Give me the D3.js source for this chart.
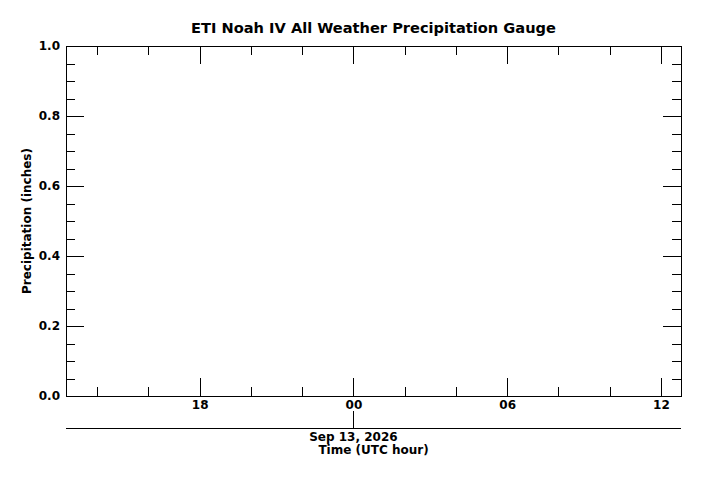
<!DOCTYPE html>
<html>
<head>
<meta charset="utf-8">
<script src="https://cdn.jsdelivr.net/npm/d3@7"></script>
<style>
  body { margin: 0; background: #fff; }
  svg { display: block; }
  text { font-family: "DejaVu Sans", sans-serif; font-weight: bold; fill: #000; }
</style>
</head>
<body>
<svg id="chart" width="703" height="477"></svg>
<script>
const svg = d3.select("#chart")

// chart values
const titleText = "ETI Noah IV All Weather Precipitation Gauge"
const yLabelText = "Precipitation (inches)"
const xLabelText = "Time (UTC hour)"
const yDomain = [0, 1]
const yMajorTicks = [0, 0.2, 0.4, 0.6, 0.8, 1.0]
const yMinorTicks = d3.range(0, 1.0001, 0.05)
const timeDomain = [new Date(Date.UTC(2026, 8, 12, 12, 47)), new Date(Date.UTC(2026, 8, 13, 12, 47))]
const xMajorTicks = [
  new Date(Date.UTC(2026, 8, 12, 18)),
  new Date(Date.UTC(2026, 8, 13, 0)),
  new Date(Date.UTC(2026, 8, 13, 6)),
  new Date(Date.UTC(2026, 8, 13, 12))
]
const xMinorTicks = d3.utcHour.every(2).range(timeDomain[0], timeDomain[1])
const dateTicks = [new Date(Date.UTC(2026, 8, 13, 0))]
const dateLabels = ["Sep 13, 2026"]
const precip = []   // no observations in this window

// layout
const mLeft = 66, mRight = 681, mTop = 46, mBottom = 396
const majorLen = 18, minorLen = 9

const x = d3.scaleUtc().domain(timeDomain).range([mLeft, mRight])
const y = d3.scaleLinear().domain(yDomain).range([mBottom, mTop])

function styleAxis(g) {
  g.select(".domain").remove()
  g.selectAll("line").attr("stroke", "#000").attr("stroke-width", 1).attr("shape-rendering", "crispEdges")
  g.selectAll("text").style("font-size", "12px").style("font-family", "DejaVu Sans").style("font-weight", "bold")
}

// minor ticks on all four sides
svg.append("g").attr("transform", `translate(${mLeft},0)`)
  .call(d3.axisRight(y).tickValues(yMinorTicks).tickSize(minorLen).tickFormat(""))
  .call(styleAxis)
svg.append("g").attr("transform", `translate(${mRight},0)`)
  .call(d3.axisLeft(y).tickValues(yMinorTicks).tickSize(minorLen).tickFormat(""))
  .call(styleAxis)
svg.append("g").attr("transform", `translate(0,${mBottom})`)
  .call(d3.axisTop(x).tickValues(xMinorTicks).tickSize(minorLen).tickFormat(""))
  .call(styleAxis)
svg.append("g").attr("transform", `translate(0,${mTop})`)
  .call(d3.axisBottom(x).tickValues(xMinorTicks).tickSize(minorLen).tickFormat(""))
  .call(styleAxis)

// major ticks
svg.append("g").attr("transform", `translate(${mLeft},0)`)
  .call(d3.axisRight(y).tickValues(yMajorTicks).tickSize(majorLen).tickFormat(""))
  .call(styleAxis)
svg.append("g").attr("transform", `translate(${mRight},0)`)
  .call(d3.axisLeft(y).tickValues(yMajorTicks).tickSize(majorLen).tickFormat(""))
  .call(styleAxis)
svg.append("g").attr("transform", `translate(0,${mBottom})`)
  .call(d3.axisTop(x).tickValues(xMajorTicks).tickSize(majorLen).tickFormat(""))
  .call(styleAxis)
svg.append("g").attr("transform", `translate(0,${mTop})`)
  .call(d3.axisBottom(x).tickValues(xMajorTicks).tickSize(majorLen).tickFormat(""))
  .call(styleAxis)

// tick labels
svg.append("g").attr("transform", `translate(${mLeft},0)`)
  .call(d3.axisLeft(y).tickValues(yMajorTicks).tickSize(0).tickPadding(6).tickFormat(d3.format(".1f")))
  .call(styleAxis)
svg.append("g").attr("transform", `translate(0,${mBottom})`)
  .call(d3.axisBottom(x).tickValues(xMajorTicks).tickSize(0).tickPadding(4).tickFormat(d3.utcFormat("%H")))
  .call(styleAxis)

// frame
svg.append("rect")
  .attr("x", mLeft).attr("y", mTop)
  .attr("width", mRight - mLeft).attr("height", mBottom - mTop)
  .attr("fill", "none").attr("stroke", "#000").attr("stroke-width", 1)
  .attr("shape-rendering", "crispEdges")

// data (empty)
svg.append("path").datum(precip)
  .attr("fill", "none").attr("stroke", "#000")
  .attr("d", d3.line().x(d => x(d.t)).y(d => y(d.v)))

// date axis
const dateY = 428
svg.append("line")
  .attr("x1", mLeft).attr("x2", mRight).attr("y1", dateY).attr("y2", dateY)
  .attr("stroke", "#000").attr("shape-rendering", "crispEdges")
svg.append("g").attr("transform", `translate(0,${dateY})`)
  .call(d3.axisTop(x).tickValues(dateTicks).tickSize(17).tickFormat(""))
  .call(styleAxis)
svg.selectAll(".datelabel").data(dateTicks).join("text")
  .attr("class", "datelabel")
  .attr("x", d => x(d)).attr("y", 441)
  .attr("text-anchor", "middle").style("font-size", "12px")
  .text((d, i) => dateLabels[i])

// titles
svg.append("text")
  .attr("x", (mLeft + mRight) / 2).attr("y", 32.5)
  .attr("text-anchor", "middle").style("font-size", "14.6px")
  .text(titleText)
svg.append("text")
  .attr("x", (mLeft + mRight) / 2).attr("y", 453.5)
  .attr("text-anchor", "middle").style("font-size", "12px")
  .text(xLabelText)
svg.append("text")
  .attr("transform", `translate(30.5,${(mTop + mBottom) / 2}) rotate(-90)`)
  .attr("text-anchor", "middle").style("font-size", "12px")
  .text(yLabelText)
</script>
</body>
</html>
